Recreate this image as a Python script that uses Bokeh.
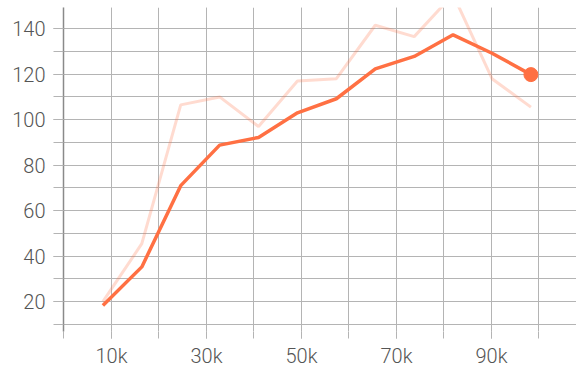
from bokeh.plotting import figure
from bokeh.models import Range1d, FixedTicker
from bokeh.embed import file_html
from bokeh.resources import INLINE

steps = [8192, 16384, 24576, 32768, 40960, 49152, 57344, 65536, 73728, 81920, 90112, 98304]
smoothed = [18.3, 35.3, 71.0, 88.8, 92.2, 103.0, 109.2, 122.3, 127.8, 137.3, 129.2, 119.8]
raw = [20.0, 45.5, 106.5, 110.0, 97.0, 117.0, 118.0, 141.5, 136.5, 155.0, 118.0, 105.5]

x_ticks = [10000, 30000, 50000, 70000, 90000]
x_minor = [0, 10000, 20000, 30000, 40000, 50000, 60000, 70000, 80000, 90000, 100000]
x_labels = {10000: "10k", 30000: "30k", 50000: "50k", 70000: "70k", 90000: "90k"}
y_ticks = [20, 40, 60, 80, 100, 120, 140]
y_minor = [10, 20, 30, 40, 50, 60, 70, 80, 90, 100, 110, 120, 130, 140, 150]

ORANGE = "#ff7043"
GRID = "#b4b4b4"

p = figure(width=576, height=370, output_backend="svg", toolbar_location=None,
           x_range=Range1d(-105, 107900), y_range=Range1d(6.9, 149.3),
           min_border_left=63, min_border_right=0, min_border_top=7, min_border_bottom=37)
p.outline_line_color = None
p.background_fill_color = "white"

p.line(steps, raw, line_color=ORANGE, line_alpha=0.25, line_width=3)
p.line(steps, smoothed, line_color=ORANGE, line_width=3.5)
p.scatter(steps[-1:], smoothed[-1:], size=14, color=ORANGE)

p.xaxis.ticker = FixedTicker(ticks=x_ticks, minor_ticks=x_minor)
p.xaxis.major_label_overrides = x_labels
p.yaxis.ticker = FixedTicker(ticks=y_ticks, minor_ticks=y_minor)

for ax in (p.xaxis, p.yaxis):
    ax.major_label_text_font = "'Roboto Light', Roboto"
    ax.major_label_text_font_size = "20px"
    ax.major_label_text_color = "#555555"
    ax.major_tick_line_color = GRID
    ax.minor_tick_line_color = GRID
    ax.major_tick_in = 0
    ax.minor_tick_in = 0

p.xaxis.axis_line_color = None
p.xaxis.major_tick_out = 7
p.xaxis.minor_tick_out = 7
p.xaxis.major_label_standoff = 5

p.yaxis.axis_line_color = "#8a8a8a"
p.yaxis.axis_line_width = 1.5
p.yaxis.major_tick_out = 10
p.yaxis.minor_tick_out = 10
p.yaxis.major_label_standoff = 8

for g in (p.xgrid, p.ygrid):
    g.grid_line_color = GRID
    g.minor_grid_line_color = GRID
    g.grid_line_width = 1
    g.minor_grid_line_width = 1

open("out.html", "w").write(file_html(p, INLINE))
